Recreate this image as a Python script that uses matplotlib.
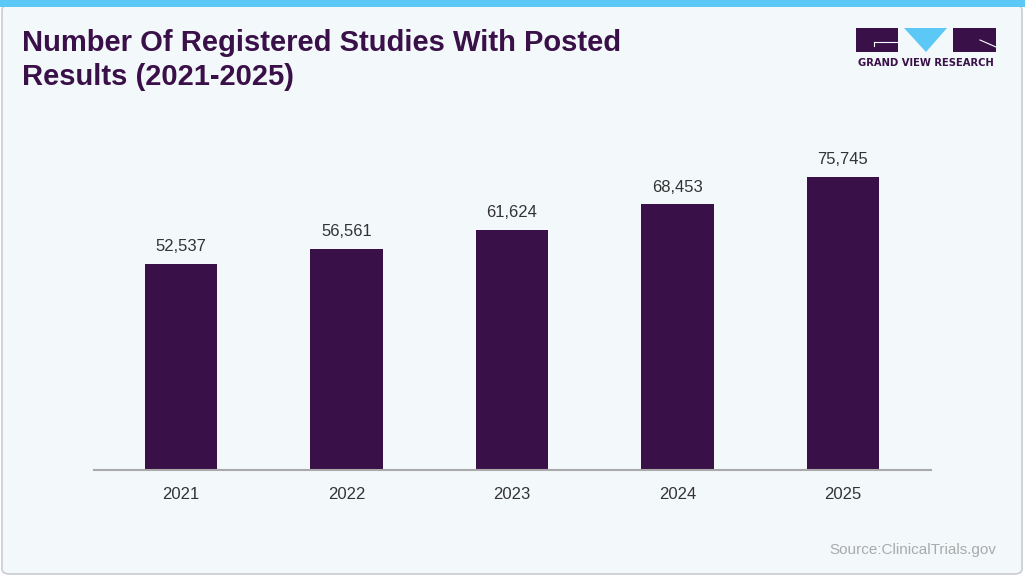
import matplotlib.pyplot as plt
from matplotlib.patches import FancyBboxPatch, Rectangle, Polygon
from matplotlib.lines import Line2D

years = ["2021", "2022", "2023", "2024", "2025"]
studies = [52537, 56561, 61624, 68453, 75745]

title_lines = ["Number Of Registered Studies With Posted", "Results (2021-2025)"]
source = "Source:ClinicalTrials.gov"

purple = "#3a1048"
cyan = "#5bc8f5"
panel_bg = "#f3f8fb"

W, H = 1025, 576
fig = plt.figure(figsize=(W / 100, H / 100), dpi=100, facecolor="white")


def fx(px):
    return px / W


def fy(py):
    # pixel y measured from top
    return 1 - py / H


# card background + top stripe
fig.patches.append(FancyBboxPatch((fx(2), fy(574)), fx(1020), 569 / H,
                                  boxstyle="round,pad=0,rounding_size=0.008",
                                  transform=fig.transFigure, facecolor=panel_bg,
                                  edgecolor="#c9cdd0", linewidth=1.2, zorder=0))
fig.patches.append(Rectangle((0, fy(7)), 1, 7 / H, transform=fig.transFigure,
                             facecolor=cyan, edgecolor="none", zorder=1))

# title, one text per line so each baseline sits where it should
for line, base in zip(title_lines, [51, 85]):
    fig.text(fx(22), fy(base), line, ha="left", va="baseline", fontsize=21,
             fontweight="bold", color=purple, family=["Liberation Sans", "DejaVu Sans"])

# logo
fig.patches.append(Rectangle((fx(856), fy(52)), fx(42), 24 / H, transform=fig.transFigure,
                             facecolor=purple, edgecolor="none"))
fig.patches.append(Polygon([(fx(904), fy(28)), (fx(947), fy(28)), (fx(926), fy(52))],
                           closed=True, transform=fig.transFigure,
                           facecolor=cyan, edgecolor="none"))
fig.patches.append(Rectangle((fx(953), fy(52)), fx(43), 24 / H, transform=fig.transFigure,
                             facecolor=purple, edgecolor="none"))
fig.lines.append(Line2D([fx(874), fx(898)], [fy(42), fy(42)], transform=fig.transFigure,
                        color="white", linewidth=0.8))
fig.lines.append(Line2D([fx(874), fx(874)], [fy(42), fy(46)], transform=fig.transFigure,
                        color="white", linewidth=0.8))
fig.lines.append(Line2D([fx(980), fx(996)], [fy(40), fy(47)], transform=fig.transFigure,
                        color="white", linewidth=0.8))
fig.text(fx(926), fy(66.5), "GRAND VIEW RESEARCH", ha="center", va="baseline",
         fontsize=7.2, fontweight="bold", color=purple, family="DejaVu Sans")

# chart -- the reference's value axis does not start exactly at zero
y0, y1 = -2350, 90980
ax = fig.add_axes([fx(94), 106 / H, fx(837), 350 / H])
ax.set_zorder(3)
ax.set_facecolor("none")
x = range(len(years))
bars = ax.bar(x, [v - y0 for v in studies], bottom=y0, width=0.44, color=purple, zorder=2)
for xi, v in zip(x, studies):
    ax.annotate(f"{v:,}", (xi, v), xytext=(0, 7),
                textcoords="offset points", ha="center", va="bottom",
                fontsize=12, color="#333333", family="Liberation Sans")

ax.set_xlim(-0.526, 4.532)
ax.set_ylim(y0, y1)
ax.set_xticks(list(x))
ax.set_xticklabels(years, fontsize=12, color="#333333", family="Liberation Sans")
ax.tick_params(axis="x", length=0, pad=12)
ax.set_yticks([])
for side in ["top", "right", "left"]:
    ax.spines[side].set_visible(False)
ax.spines["bottom"].set_color("#aaaaaa")
ax.spines["bottom"].set_linewidth(1.5)

fig.text(fx(996), fy(554), source, ha="right", va="baseline", fontsize=11,
         color="#aaaaaa", family="Liberation Sans")

fig.savefig("out.png", dpi=100, facecolor=fig.get_facecolor())
